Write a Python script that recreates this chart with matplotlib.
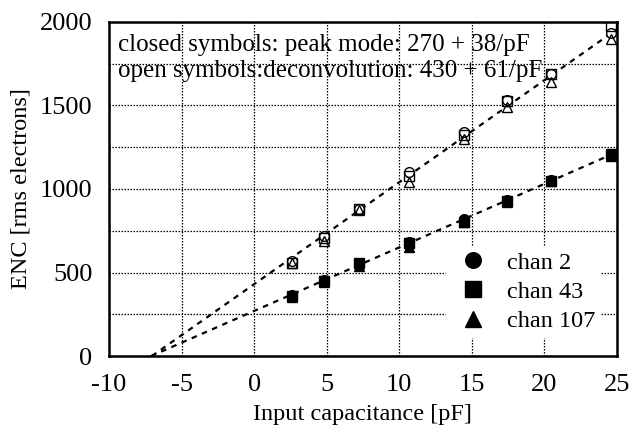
import numpy as np
import matplotlib
matplotlib.use('Agg')
import matplotlib.pyplot as plt

plt.rcParams['font.family'] = ['Liberation Serif', 'DejaVu Serif']
plt.rcParams['axes.unicode_minus'] = False

# Вхідна ємність, pF
cap = [2.6, 4.8, 7.25, 10.7, 14.5, 17.45, 20.5, 24.6]

# Закриті символи (peak mode)
peak_ch2 = [365, 455, 550, 685, 820, 935, 1055, 1195]
peak_ch43 = [360, 450, 555, 675, 805, 925, 1050, 1210]
peak_ch107 = [355, 445, 540, 650, 800, 920, 1050, 1200]

# Відкриті символи (deconvolution)
dec_ch2 = [570, 720, 880, 1100, 1340, 1530, 1690, 1935]
dec_ch43 = [560, 705, 880, 1080, 1320, 1525, 1690, 1975]
dec_ch107 = [555, 690, 875, 1040, 1300, 1490, 1640, 1895]

# Параметри апроксимації
peak_fit = (270, 38)
dec_fit = (430, 61)

fig = plt.figure(figsize=(6.3, 4.28), dpi=100)
ax = fig.add_axes([0.173, 0.168, 0.806, 0.781])

for a, b in (peak_fit, dec_fit):
    xs = np.array([-a / b, 25])
    ax.plot(xs, a + b * xs, ls=(0, (2.5, 2.5)), c='black', lw=1.6, zorder=2)

ms = 7
ax.plot(cap, peak_ch2, 'o', ms=ms, mfc='black', mec='black', zorder=3, label='chan 2')
ax.plot(cap, peak_ch43, 's', ms=ms, mfc='black', mec='black', zorder=3, label='chan 43')
ax.plot(cap, peak_ch107, '^', ms=ms, mfc='black', mec='black', zorder=3, label='chan 107')
ax.plot(cap, dec_ch2, 'o', ms=ms, mfc='white', mec='black', mew=1, zorder=3)
ax.plot(cap, dec_ch43, 's', ms=ms, mfc='none', mec='black', mew=1, zorder=3)
ax.plot(cap, dec_ch107, '^', ms=ms, mfc='none', mec='black', mew=1, zorder=3)

ax.set_xlim(-10, 25)
ax.set_ylim(0, 2000)
ax.set_xticks(range(-10, 26, 5))
ax.set_yticks([0, 500, 1000, 1500, 2000])
ax.set_yticks([250, 750, 1250, 1750], minor=True)
ax.tick_params(which='both', length=0, labelsize=19)
ax.tick_params(axis='x', pad=13)
ax.tick_params(axis='y', pad=12)
ax.grid(which='both', ls=(0, (1.2, 1.2)), c='black', lw=0.9)
for s in ax.spines.values():
    s.set_linewidth(1.8)

ax.set_xlabel('Input capacitance [pF]', fontsize=17.5, labelpad=6)
ax.set_ylabel('ENC [rms electrons]', fontsize=17.5, labelpad=6)

ax.text(-9.4, 1824, 'closed symbols: peak mode: 270 + 38/pF', fontsize=18, zorder=4)
ax.text(-9.4, 1670, 'open symbols:deconvolution: 430 + 61/pF', fontsize=18, zorder=4)

leg = ax.legend(loc='lower right', bbox_to_anchor=(0.967, 0.057), fontsize=17.5, frameon=True,
                framealpha=1, edgecolor='white', fancybox=False, handletextpad=0.5,
                borderaxespad=0.0, borderpad=0.2, labelspacing=0.3, markerscale=1.6,
                handlelength=1.8)
leg.set_zorder(5)

plt.savefig('out.png', dpi=100)
